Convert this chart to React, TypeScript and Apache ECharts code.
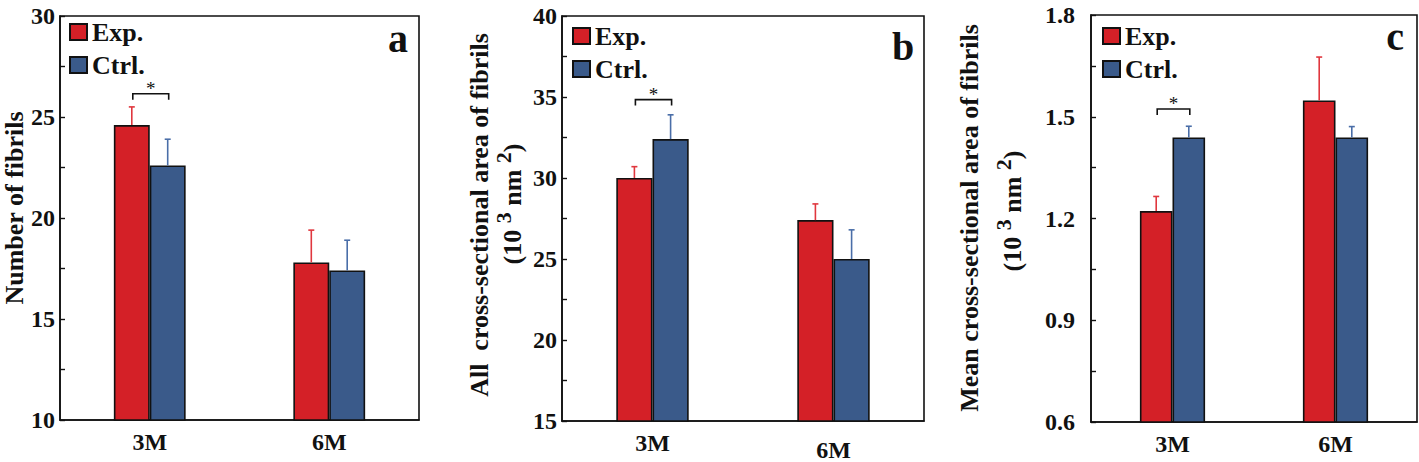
import React, { useEffect, useRef } from "react";
import * as echarts from "echarts";

const categories = ["3M", "6M"];
const seriesNames = ["Exp.", "Ctrl."];

// Panel a: Number of fibrils
const numFibrilsExp = [24.6, 17.8];
const numFibrilsExpErr = [0.9, 1.6];
const numFibrilsCtrl = [22.6, 17.4];
const numFibrilsCtrlErr = [1.3, 1.5];

// Panel b: All cross-sectional area of fibrils (10^3 nm^2)
const allAreaExp = [30.0, 27.4];
const allAreaExpErr = [0.7, 1.0];
const allAreaCtrl = [32.4, 25.0];
const allAreaCtrlErr = [1.5, 1.8];

// Panel c: Mean cross-sectional area of fibrils (10^3 nm^2)
const meanAreaExp = [1.222, 1.548];
const meanAreaExpErr = [0.043, 0.128];
const meanAreaCtrl = [1.439, 1.439];
const meanAreaCtrlErr = [0.033, 0.032];

// Significance bracket levels (3M) per panel
const sigLevels = [26.15, 34.84, 1.523];

// Axis ranges
const yMins = [10, 15, 0.6];
const yMaxs = [30, 40, 1.8];
const yIntervals = [5, 5, 0.3];

const panelLetters = ["a", "b", "c"];

const RED = "#d42027";
const BLUE = "#3a5a8a";
const RED_ERR = "#e0373e";
const BLUE_ERR = "#4a6ea8";
const FONT = "'Liberation Serif', 'Times New Roman', serif";

export default function App() {
  const ref = useRef<HTMLDivElement>(null);

  useEffect(() => {
    if (!ref.current) return;
    const chart = echarts.init(ref.current, null, { renderer: "svg" });

    const grids = [
      { left: 60, top: 16, width: 359, height: 404 },
      { left: 562, top: 16, width: 362, height: 405 },
      { left: 1091, top: 15, width: 326, height: 407 },
    ];
    const labelMargins = [5, 5, 16];

    const expData = [numFibrilsExp, allAreaExp, meanAreaExp];
    const expErr = [numFibrilsExpErr, allAreaExpErr, meanAreaExpErr];
    const ctrlData = [numFibrilsCtrl, allAreaCtrl, meanAreaCtrl];
    const ctrlErr = [numFibrilsCtrlErr, allAreaCtrlErr, meanAreaCtrlErr];

    const makeErrRender = (side: number, color: string) => (params: any, api: any) => {
      const cat = api.value(0);
      const v = api.value(1);
      const e = api.value(2);
      const p0 = api.coord([cat, v]);
      const p1 = api.coord([cat, v + e]);
      const band = api.size([1, 0])[0];
      const bw = band * 0.2;
      const x = p0[0] + (side * bw) / 2;
      const st = { stroke: color, lineWidth: 1.6 };
      return {
        type: "group",
        children: [
          { type: "line", shape: { x1: x, y1: p0[1], x2: x, y2: p1[1] }, style: st },
          { type: "line", shape: { x1: x - 3, y1: p1[1], x2: x + 3, y2: p1[1] }, style: st },
        ],
      };
    };

    const bracketRender = (params: any, api: any) => {
      const cat = api.value(0);
      const lvl = api.value(1);
      const p = api.coord([cat, lvl]);
      const band = api.size([1, 0])[0];
      const bw = band * 0.2;
      const l = p[0] - bw / 2 + 1;
      const r = p[0] + bw / 2 + 1;
      return {
        type: "group",
        children: [
          {
            type: "polyline",
            shape: { points: [[l, p[1] + 6], [l, p[1]], [r, p[1]], [r, p[1] + 6]] },
            style: { stroke: "#111", lineWidth: 1.6, fill: null },
          },
          {
            type: "text",
            x: (l + r) / 2,
            y: p[1] + 4,
            style: {
              text: "*",
              font: "19px " + FONT,
              fill: "#111",
              align: "center",
              verticalAlign: "bottom",
              textAlign: "center",
              textVerticalAlign: "bottom",
            },
          },
        ],
      };
    };

    const xAxes: any[] = [];
    const yAxes: any[] = [];
    const series: any[] = [];
    const legends: any[] = [];
    const legendPos = [
      { left: 69, top: 18 },
      { left: 572, top: 22 },
      { left: 1102, top: 22 },
    ];

    for (let i = 0; i < 3; i++) {
      xAxes.push({
        type: "category",
        gridIndex: i,
        data: categories,
        boundaryGap: true,
        axisLine: { show: true, lineStyle: { color: "#111", width: 1.6 } },
        axisTick: { show: false },
        axisLabel: {
          color: "#111",
          fontSize: 24,
          fontWeight: "bold",
          fontFamily: FONT,
          margin: 10,
          formatter: (v: string) => (i === 1 && v === "6M" ? "{low|" + v + "}" : v),
          rich: {
            low: { fontSize: 24, fontWeight: "bold", fontFamily: FONT, color: "#111", padding: [7, 0, 0, 0] },
          },
        },
        splitLine: { show: false },
      });
      yAxes.push({
        type: "value",
        gridIndex: i,
        min: yMins[i],
        max: yMaxs[i],
        interval: yIntervals[i],
        axisLine: { show: true, lineStyle: { color: "#111", width: 1.6 } },
        axisTick: { show: true, inside: true, length: 5, lineStyle: { color: "#111", width: 1.4 } },
        minorTick: { show: true, splitNumber: 2, length: 5, lineStyle: { color: "#111", width: 1.4 } },
        minorSplitLine: { show: false },
        splitLine: { show: false },
        axisLabel: {
          color: "#111",
          fontSize: 24,
          fontWeight: "bold",
          fontFamily: FONT,
          margin: labelMargins[i],
          formatter: (v: number) => (i === 2 ? v.toFixed(1) : String(Math.round(v))),
        },
      });
      series.push({
        type: "bar",
        name: seriesNames[0],
        xAxisIndex: i,
        yAxisIndex: i,
        data: expData[i],
        barWidth: "20%",
        barGap: "0%",
        itemStyle: { color: RED, borderColor: "#111", borderWidth: 1.6 },
        z: 2,
      });
      series.push({
        type: "bar",
        name: seriesNames[1],
        xAxisIndex: i,
        yAxisIndex: i,
        data: ctrlData[i],
        barWidth: "20%",
        barGap: "0%",
        itemStyle: { color: BLUE, borderColor: "#111", borderWidth: 1.6 },
        z: 2,
      });
      series.push({
        type: "custom",
        name: "errExp" + i,
        xAxisIndex: i,
        yAxisIndex: i,
        data: categories.map((_, k) => [k, expData[i][k], expErr[i][k]]),
        renderItem: makeErrRender(-1, RED_ERR),
        z: 3,
        silent: true,
      });
      series.push({
        type: "custom",
        name: "errCtrl" + i,
        xAxisIndex: i,
        yAxisIndex: i,
        data: categories.map((_, k) => [k, ctrlData[i][k], ctrlErr[i][k]]),
        renderItem: makeErrRender(1, BLUE_ERR),
        z: 3,
        silent: true,
      });
      series.push({
        type: "custom",
        name: "sig" + i,
        xAxisIndex: i,
        yAxisIndex: i,
        data: [[0, sigLevels[i]]],
        renderItem: bracketRender,
        z: 3,
        silent: true,
      });
      legends.push({
        data: seriesNames,
        orient: "vertical",
        left: legendPos[i].left,
        top: legendPos[i].top,
        itemWidth: 17,
        itemHeight: 16,
        itemGap: 5,
        icon: "rect",
        selectedMode: false,
        padding: 0,
        textStyle: { fontSize: 26, fontWeight: "bold", fontFamily: FONT, color: "#111", lineHeight: 28 },
      });
    }

    const titleFont = "bold 26px " + FONT;
    const supRich = {
      s: { fontSize: 22, fontWeight: "bold", fontFamily: FONT, verticalAlign: "top", lineHeight: 22 },
    };
    const textEl = (x: number, y: number, text: string, rich?: any) => ({
      type: "text",
      x,
      y,
      rotation: Math.PI / 2,
      style: {
        text,
        font: titleFont,
        fill: "#111",
        align: "center",
        verticalAlign: "middle",
        textAlign: "center",
        textVerticalAlign: "middle",
        lineHeight: rich ? 40 : undefined,
        rich,
      },
    });

    const graphic: any[] = [
      textEl(14, 208, "Number of fibrils"),
      textEl(479, 215, "All  cross-sectional area of fibrils"),
      textEl(512, 204, "(10 {s|3} nm {s|2})", supRich),
      textEl(969, 218, "Mean cross-sectional area of fibrils"),
      textEl(1012, 211, "(10 {s|3} nm {s|2})", supRich),
    ];
    const letterPos = [
      [398, 58],
      [903, 66],
      [1395, 56],
    ];
    panelLetters.forEach((t, i) => {
      graphic.push({
        type: "text",
        x: letterPos[i][0],
        y: letterPos[i][1],
        style: {
          text: t,
          font: "bold 40px " + FONT,
          fill: "#111",
          align: "center",
          verticalAlign: "bottom",
          textAlign: "center",
          textVerticalAlign: "bottom",
        },
      });
    });

    chart.setOption({
      animation: false,
      backgroundColor: "#fff",
      grid: grids.map((g) => ({ ...g, show: true, borderColor: "#111", borderWidth: 1.6, backgroundColor: "transparent" })),
      xAxis: xAxes,
      yAxis: yAxes,
      legend: legends,
      series,
      graphic,
    });

    return () => chart.dispose();
  }, []);

  return (
    <div
      ref={ref}
      style={{ position: "fixed", left: 0, top: 0, width: 1419, height: 462, background: "#fff" }}
    />
  );
}
